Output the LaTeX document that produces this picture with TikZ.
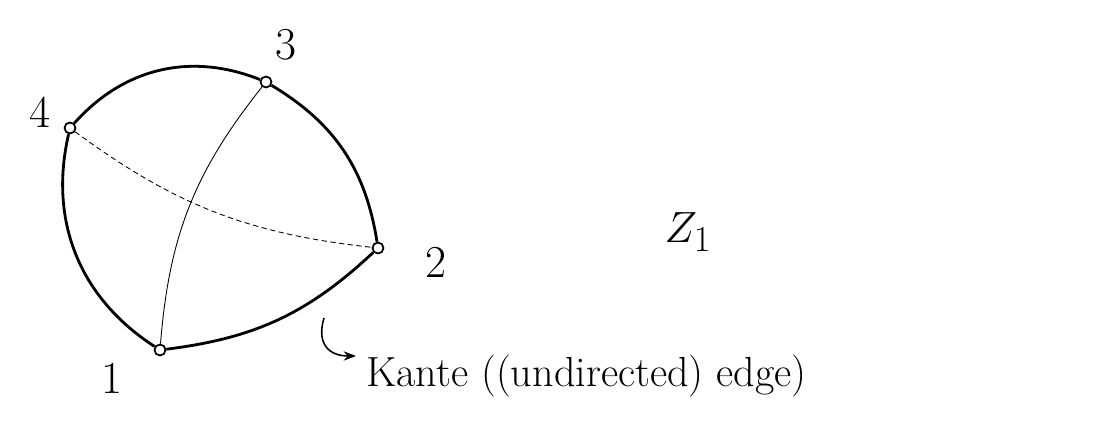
\documentclass[tikz,border=0pt]{standalone}
\usepackage{tikz}
\usetikzlibrary{arrows.meta,positioning,calc}

\begin{document}
\begin{tikzpicture}[
  x=0.02cm, y=-0.02cm,
  every node/.style={font=\fontsize{26}{30}\selectfont},
  vertex/.style={circle, draw, line width=1pt, inner sep=0pt, minimum size=0.22cm, fill=white},
  outer/.style={line width=1.6pt},
  inner/.style={line width=0.5pt},
  hook/.style={-{Stealth[length=7pt]}, line width=0.9pt},
  caption/.style={font=\fontsize{24}{28}\selectfont, anchor=west}
]
\useasboundingbox (0,0) rectangle (1096,448);

% the vertices
\node[vertex] (v1) at (160,350) {};
\node[vertex] (v2) at (378,248) {};
\node[vertex] (v3) at (266,82) {};
\node[vertex] (v4) at (70,128) {};

\node (l1) at (112,378) {1};
\node (l2) at (436,262) {2};
\node (l3) at (286,45) {3};
\node (l4) at (40,112) {4};

% edges
\draw[outer] (v4) to[bend left=35] (v3);
\draw[outer] (v3) to[bend left=25] (v2);
\draw[outer] (v2) to[bend left=18] (v1);
\draw[outer] (v1) to[bend left=35] (v4);
\draw[inner] (v1) to[bend left=17] (v3);
\draw[inner, densely dashed] (v4) to[bend right=15] (v2);

\node[font=\fontsize{32}{36}\selectfont] (graph) at (688,232) {$Z_1$};

\node[caption] (edgelbl) at (360,376) {Kante ((undirected) edge)};
\coordinate (hookstart) at (324,318);
\draw[hook] (hookstart) .. controls (316,345) and (330,356) .. ($(edgelbl.west)+(-4,-20)$);
\end{tikzpicture}
\end{document}
